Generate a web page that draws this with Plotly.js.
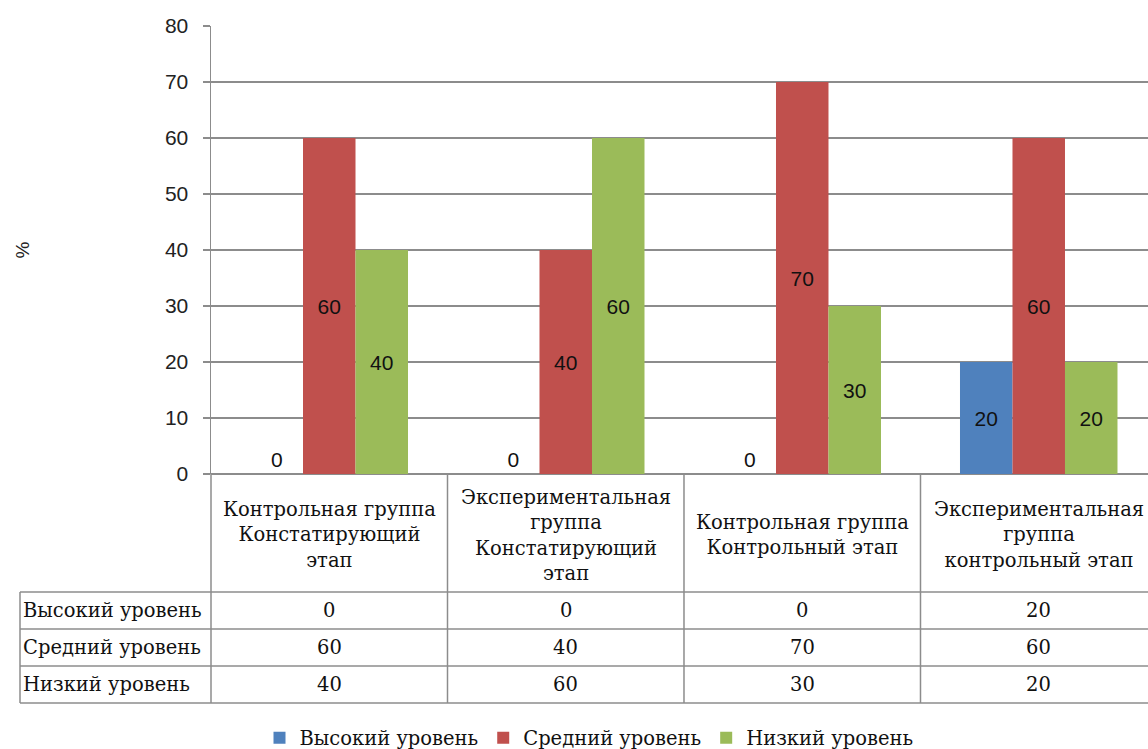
<!DOCTYPE html>
<html>
<head>
<meta charset="utf-8">
<script src="https://cdn.plot.ly/plotly-3.0.1.min.js"></script>
<style>html,body{margin:0;padding:0;background:#fff;}#chart{width:1148px;height:749px;}</style>
</head>
<body>
<div id="chart"></div>
<script>
// ---- data ----
const categories = [
  'Контрольная группа<br>Констатирующий<br>этап',
  'Экспериментальная<br>группа<br>Констатирующий<br>этап',
  'Контрольная группа<br>Контрольный этап',
  'Экспериментальная<br>группа<br>контрольный этап'
];
const seriesNames = ['Высокий уровень', 'Средний уровень', 'Низкий уровень'];
const highLevel = [0, 0, 0, 20];
const midLevel = [60, 40, 70, 60];
const lowLevel = [40, 60, 30, 20];
const yTicks = [0, 10, 20, 30, 40, 50, 60, 70, 80];

// ---- layout geometry ----
const W = 1148, H = 749;
const L = 211, T = 26, B = 275, R = 0;
const plotW = W - L - R, plotH = H - T - B;
const px2x = p => (p - L) / plotW;          // pixel x -> paper x
const py2y = p => (T + plotH - p) / plotH;  // pixel y -> paper y

const colors = ['#4F81BD', '#C0504D', '#9BBB59'];
const seriesData = [highLevel, midLevel, lowLevel];
const gridColor = '#8c8c8c';
const serif = 'DejaVu Serif';
const sans = 'Liberation Sans';

const traces = seriesData.map((vals, k) => ({
  type: 'bar',
  name: seriesNames[k],
  x: categories,
  y: vals,
  marker: {color: colors[k]},
  text: vals.map(v => String(v)),
  texttemplate: '%{text}',
  textposition: vals.map(v => v > 0 ? 'inside' : 'outside'),
  insidetextanchor: 'middle',
  textangle: 0,
  constraintext: 'none',
  cliponaxis: false,
  textfont: {family: sans, size: 21, color: '#111'},
  insidetextfont: {family: sans, size: 21, color: '#111'},
  outsidetextfont: {family: sans, size: 21, color: '#111'},
  hoverinfo: 'skip'
}));

// ---- data table below the plot ----
const headerTop = 474, headerBot = 592, rowH = 37;
const rowLines = [headerBot, headerBot + rowH, headerBot + 2 * rowH, headerBot + 3 * rowH];
const tableLeft = 20;
const lineStyle = {color: gridColor, width: 1.5};
const shapes = [];
rowLines.forEach(py => shapes.push({type: 'line', xref: 'paper', yref: 'paper',
  x0: px2x(tableLeft), x1: 1.02, y0: py2y(py), y1: py2y(py), line: lineStyle}));
shapes.push({type: 'line', xref: 'paper', yref: 'paper', x0: px2x(tableLeft), x1: px2x(tableLeft),
  y0: py2y(headerBot), y1: py2y(rowLines[3]), line: lineStyle});
shapes.push({type: 'line', xref: 'paper', yref: 'paper', x0: 0, x1: 0,
  y0: py2y(headerTop), y1: py2y(rowLines[3]), line: lineStyle});
for (let i = 0; i < categories.length; i++) {
  shapes.push({type: 'line', xref: 'x', yref: 'paper', x0: i + 0.5, x1: i + 0.5,
    y0: py2y(headerTop), y1: py2y(rowLines[3]), line: lineStyle});
}

const tableFont = {family: serif, size: 19.5, color: '#111'};
const annotations = [];
categories.forEach((c, i) => annotations.push({
  xref: 'x', yref: 'paper', x: i, y: py2y((headerTop + headerBot) / 2 + 2),
  text: c, showarrow: false, align: 'center', xanchor: 'center', yanchor: 'middle',
  font: tableFont
}));
seriesNames.forEach((n, k) => {
  const cy = py2y(rowLines[k] + rowH / 2);
  annotations.push({xref: 'paper', yref: 'paper', x: px2x(tableLeft + 1), y: cy, text: n,
    showarrow: false, xanchor: 'left', yanchor: 'middle', font: tableFont});
  seriesData[k].forEach((v, i) => annotations.push({xref: 'x', yref: 'paper', x: i, y: cy,
    text: String(v), showarrow: false, xanchor: 'center', yanchor: 'middle', font: tableFont}));
});

const layout = {
  width: W, height: H,
  margin: {l: L, r: R, t: T, b: B, pad: 0, autoexpand: false},
  paper_bgcolor: '#fff', plot_bgcolor: '#fff',
  barmode: 'group',
  bargap: 0.334, bargroupgap: 0,
  showlegend: true,
  legend: {orientation: 'h', x: px2x(589), xanchor: 'center', y: py2y(738), yanchor: 'middle',
    font: {family: serif, size: 19.5, color: '#111'}, itemwidth: 30, traceorder: 'normal'},
  xaxis: {
    type: 'category', range: [-0.5, 3.462],
    showticklabels: false, showgrid: false, zeroline: false,
    showline: false, ticks: '', fixedrange: true
  },
  yaxis: {
    range: [0, 80], tickvals: yTicks, ticktext: yTicks.map(String),
    showgrid: true, gridcolor: gridColor, gridwidth: 1.5,
    zeroline: true, zerolinecolor: gridColor, zerolinewidth: 1.5,
    showline: true, linecolor: gridColor, linewidth: 1.5,
    ticks: 'outside', ticklen: 7, tickcolor: gridColor, tickwidth: 1.5,
    ticklabelstandoff: 10,
    tickfont: {family: sans, size: 21, color: '#222'},
    title: {text: '%', standoff: 130, font: {family: sans, size: 19, color: '#222'}},
    fixedrange: true
  },
  shapes: shapes,
  annotations: annotations
};

Plotly.newPlot('chart', traces, layout, {displayModeBar: false, staticPlot: true});
</script>
</body>
</html>
